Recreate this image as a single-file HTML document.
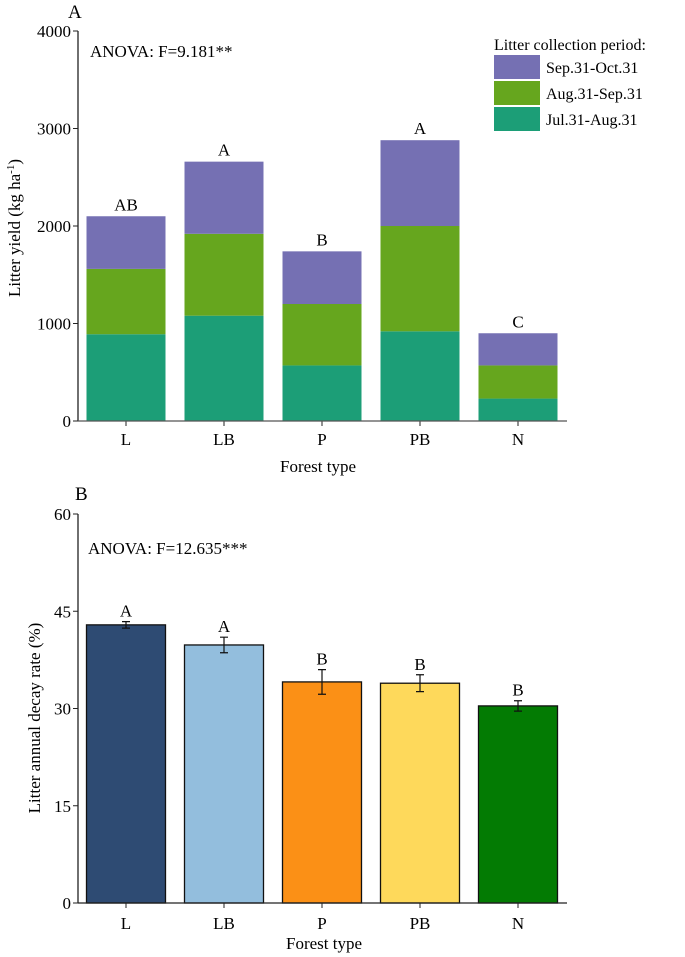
<!DOCTYPE html>
<html><head><meta charset="utf-8"><style>
body{margin:0;background:#fff}
svg{display:block;font-family:"Liberation Serif",serif}
</style></head><body>
<svg id="c" width="685" height="957" viewBox="0 0 685 957"></svg>
<script>
const categories=["L","LB","P","PB","N"];
const julAug=[890,1080,570,920,230];
const augSep=[670,840,630,1080,340];
const sepOct=[540,740,540,880,330];
const topLetters=["AB","A","B","A","C"];
const yTicksTop=[0,1000,2000,3000,4000];
const decay=[42.9,39.8,34.1,33.9,30.4];
const decayErr=[0.5,1.2,1.9,1.3,0.8];
const botLetters=["A","A","B","B","B"];
const yTicksBot=[0,15,30,45,60];
const decayColors=["#2e4b73","#93bedd","#fb9016","#fed95b","#037b03"];

const NS="http://www.w3.org/2000/svg";
const svg=document.getElementById('c');
function mk(t,a,txt,parent){const e=document.createElementNS(NS,t);for(const k in a)e.setAttribute(k,a[k]);if(txt!=null)e.textContent=txt;(parent||svg).appendChild(e);return e;}
const x0=78,x1=567,step=98,bw=79;
const xc=i=>x0+48+i*step;

// ---- Panel A
const yA=v=>421-v*(390/4000);
const gA=mk('g',{});


mk('text',{x:68,y:18,'font-size':19},'A',gA);
const series=[[julAug,"#1c9e77","jul-aug"],[augSep,"#66a61e","aug-sep"],[sepOct,"#7570b3","sep-oct"]];
categories.forEach((c,i)=>{
  let base=0;
  series.forEach(([arr,col,nm])=>{
    const r=mk('rect',{x:xc(i)-bw/2,y:yA(base+arr[i]),width:bw,height:yA(base)-yA(base+arr[i]),fill:col},null,gA);
    
    
    base+=arr[i];
  });
  const t=mk('text',{x:xc(i),y:yA(base)-6,'font-size':17,'text-anchor':'middle'},topLetters[i],gA);
  
  const tk=mk('line',{x1:xc(i),x2:xc(i),y1:421,y2:426,stroke:'#222'},null,gA);
  const tl=mk('text',{x:xc(i),y:445,'font-size':17,'text-anchor':'middle'},c,gA);
  
});
yTicksTop.forEach(v=>{
  mk('line',{x1:x0-5,x2:x0,y1:yA(v),y2:yA(v),stroke:'#222'},null,gA);
  const t=mk('text',{x:x0-7,y:yA(v)+6,'font-size':17,'text-anchor':'end'},v,gA);
  
});
mk('line',{x1:x0,x2:x0,y1:yA(4000),y2:421,stroke:'#222','stroke-width':1.3},null,gA);
mk('line',{x1:x0,x2:x1,y1:421,y2:421,stroke:'#555','stroke-width':1.3},null,gA);
mk('text',{x:90,y:57,'font-size':17},'ANOVA: F=9.181**',gA);
mk('text',{x:318,y:472,'font-size':17,'text-anchor':'middle'},'Forest type',gA);
const yt=mk('text',{transform:'translate(20,228) rotate(-90)','font-size':17,'text-anchor':'middle'},null,gA);

yt.innerHTML='Litter yield (kg ha<tspan dy="-6" font-size="11">-1</tspan><tspan dy="6">)</tspan>';
const lg=mk('g',{},null,gA);


mk('text',{x:494,y:50,'font-size':16},'Litter collection period:',lg);
[["Sep.31-Oct.31","#7570b3"],["Aug.31-Sep.31","#66a61e"],["Jul.31-Aug.31","#1c9e77"]].forEach(([l,col],k)=>{
  const r=mk('rect',{x:494,y:55+k*26,width:46,height:24,fill:col},null,lg);
  
  
  mk('text',{x:546,y:73+k*26,'font-size':16},l,lg);
});

// ---- Panel B
const yB=v=>903-v*(389/60);
const gB=mk('g',{});


mk('text',{x:75,y:500,'font-size':19},'B',gB);
categories.forEach((c,i)=>{
  const r=mk('rect',{x:xc(i)-bw/2,y:yB(decay[i]),width:bw,height:yB(0)-yB(decay[i]),fill:decayColors[i],stroke:'#111','stroke-width':1.3},null,gB);
  
  
  const hi=yB(decay[i]+decayErr[i]),lo=yB(decay[i]-decayErr[i]);
  const eb=mk('path',{d:`M${xc(i)} ${hi}V${lo}M${xc(i)-4} ${hi}H${xc(i)+4}M${xc(i)-4} ${lo}H${xc(i)+4}`,stroke:'#111','stroke-width':1.2,fill:'none'},null,gB);
  
  const t=mk('text',{x:xc(i),y:hi-5,'font-size':17,'text-anchor':'middle'},botLetters[i],gB);
  
  mk('line',{x1:xc(i),x2:xc(i),y1:903,y2:908,stroke:'#222'},null,gB);
  const tl=mk('text',{x:xc(i),y:929,'font-size':17,'text-anchor':'middle'},c,gB);
  
});
yTicksBot.forEach(v=>{
  mk('line',{x1:x0-5,x2:x0,y1:yB(v),y2:yB(v),stroke:'#222'},null,gB);
  const t=mk('text',{x:x0-7,y:yB(v)+6,'font-size':17,'text-anchor':'end'},v,gB);
  
});
mk('line',{x1:x0,x2:x0,y1:yB(60),y2:903,stroke:'#222','stroke-width':1.3},null,gB);
mk('line',{x1:x0,x2:x1,y1:903,y2:903,stroke:'#222','stroke-width':1.3},null,gB);
mk('text',{x:88,y:554,'font-size':17},'ANOVA: F=12.635***',gB);
mk('text',{x:324,y:949,'font-size':17,'text-anchor':'middle'},'Forest type',gB);
mk('text',{transform:'translate(40,718) rotate(-90)','font-size':17,'text-anchor':'middle'},'Litter annual decay rate (%)',gB);
</script>
</body></html>
